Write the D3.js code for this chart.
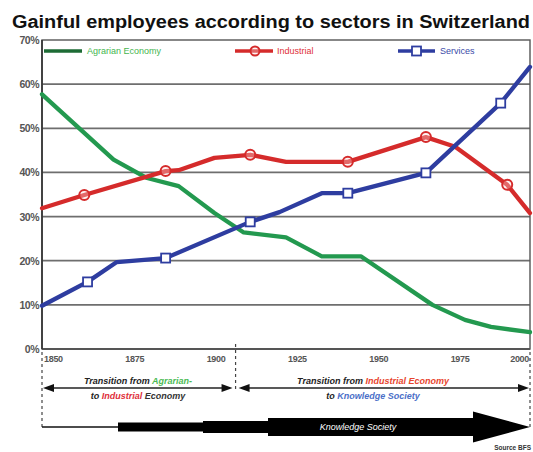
<!DOCTYPE html>
<html><head><meta charset="utf-8">
<script src="https://cdn.jsdelivr.net/npm/d3@7"></script>
<style>body{margin:0;background:#fff}svg{display:block;font-family:"Liberation Sans",Arial,sans-serif}</style>
</head><body><svg id="c" width="533" height="452"></svg>
<script>
const title = "Gainful employees according to sectors in Switzerland";
const yTicks = [0,10,20,30,40,50,60,70];
const xTicks = [1850,1875,1900,1925,1950,1975,2000];

const agrarianYears  = [1850,1872,1882,1892,1903,1912,1925,1936,1948,1970,1980,1988,2000];
const agrarianValues = [57.7,42.9,38.8,36.9,30.8,26.4,25.3,21.0,21.0,10.0,6.6,5.0,3.8];

const industrialYears   = [1850,1863,1888,1892,1903,1914,1925,1944,1968,1977,1993,2000];
const industrialValues  = [31.9,34.9,40.3,40.5,43.3,44.0,42.4,42.4,48.0,45.8,37.2,30.8];
const industrialMarkers = [1863,1888,1914,1944,1968,1993];

const servicesYears   = [1850,1864,1873,1888,1914,1923,1936,1944,1968,1991,2000];
const servicesValues  = [9.8,15.2,19.7,20.6,28.8,31.0,35.3,35.3,39.9,55.7,63.9];
const servicesMarkers = [1864,1888,1914,1944,1968,1991];

const seriesNames = ["Agrarian Economy","Industrial","Services"];
const transitionYear = 1909.5;

const svg = d3.select("#c");
const x = d3.scaleLinear().domain([1850,2000]).range([42,530]);
const y = d3.scaleLinear().domain([0,70]).range([349,40]);

// title
svg.append("text").attr("x",12).attr("y",28).attr("font-size",17.5).attr("font-weight","bold")
  .attr("fill","#111").attr("textLength",518).attr("lengthAdjust","spacingAndGlyphs").text(title);

// gridlines
svg.append("g").selectAll("line").data(yTicks.filter(d=>d>0&&d<70)).join("line")
  .attr("x1",x(1850)).attr("x2",x(2000)).attr("y1",d=>y(d)).attr("y2",d=>y(d))
  .attr("stroke","#6e6e6e").attr("stroke-width",1.7);
// border
svg.append("rect").attr("x",x(1850)).attr("y",y(70)).attr("width",x(2000)-x(1850)).attr("height",y(0)-y(70))
  .attr("fill","none").attr("stroke","#555").attr("stroke-width",1.4);
svg.append("line").attr("x1",x(1850)).attr("x2",x(2000)).attr("y1",y(0)).attr("y2",y(0))
  .attr("stroke","#555").attr("stroke-width",2.2);
svg.append("line").attr("x1",x(1850)).attr("x2",x(1850)).attr("y1",y(70)).attr("y2",y(0))
  .attr("stroke","#333").attr("stroke-width",1.6);

// y labels
svg.append("g").selectAll("text").data(yTicks).join("text")
  .attr("x",39).attr("y",d=>y(d)+4).attr("text-anchor","end").attr("font-size",10.5).attr("font-weight","bold")
  .attr("fill","#555").attr("letter-spacing",-0.5).text(d=>d+"%");
// x labels
svg.append("g").selectAll("text").data(xTicks).join("text")
  .attr("x",(d,i)=>i===xTicks.length-1?x(d)-1:x(d)+2).attr("y",362)
  .attr("text-anchor",(d,i)=>i===xTicks.length-1?"end":"start")
  .attr("font-size",9).attr("font-weight","bold").attr("fill","#555").attr("letter-spacing",-0.3).text(d=>d);

const line = d3.line().x(d=>x(d[0])).y(d=>y(d[1]));
const zip = (a,b)=>a.map((v,i)=>[v,b[i]]);
const colors = {green:"#23994f", red:"#d52b2b", blue:"#2e3da0"};

function drawLine(years, vals, col){
  svg.append("path").attr("d",line(zip(years,vals))).attr("fill","none").attr("stroke",col)
    .attr("stroke-width",4.3).attr("stroke-linejoin","round").attr("stroke-linecap","round");
}
drawLine(agrarianYears, agrarianValues, colors.green);
drawLine(industrialYears, industrialValues, colors.red);
drawLine(servicesYears, servicesValues, colors.blue);

const indPts = zip(industrialYears, industrialValues).filter(d=>industrialMarkers.includes(d[0]));
svg.append("g").selectAll("circle").data(indPts).join("circle")
  .attr("cx",d=>x(d[0])).attr("cy",d=>y(d[1])).attr("r",5)
  .attr("fill","rgba(255,220,220,0.35)").attr("stroke",colors.red).attr("stroke-width",2);
const srvPts = zip(servicesYears, servicesValues).filter(d=>servicesMarkers.includes(d[0]));
svg.append("g").selectAll("rect").data(srvPts).join("rect")
  .attr("x",d=>x(d[0])-4.5).attr("y",d=>y(d[1])-4.5).attr("width",9).attr("height",9)
  .attr("fill","#fff").attr("stroke",colors.blue).attr("stroke-width",1.8);

// legend
const lg = svg.append("g");
const ly = 51;
lg.append("line").attr("x1",44).attr("x2",82).attr("y1",ly).attr("y2",ly).attr("stroke","#1d6b35").attr("stroke-width",3.5);
lg.append("text").attr("x",87).attr("y",ly+3).attr("font-size",9).attr("fill","#45b54f").text(seriesNames[0]);
lg.append("line").attr("x1",235).attr("x2",273).attr("y1",ly).attr("y2",ly).attr("stroke",colors.red).attr("stroke-width",3.5);
lg.append("circle").attr("cx",255).attr("cy",ly).attr("r",4.5).attr("fill","rgba(255,220,220,0.35)").attr("stroke",colors.red).attr("stroke-width",2);
lg.append("text").attr("x",277).attr("y",ly+3).attr("font-size",9).attr("fill","#e0303a").text(seriesNames[1]);
lg.append("line").attr("x1",398).attr("x2",435).attr("y1",ly).attr("y2",ly).attr("stroke",colors.blue).attr("stroke-width",3.5);
lg.append("rect").attr("x",412).attr("y",ly-4.5).attr("width",9).attr("height",9).attr("fill","#fff").attr("stroke",colors.blue).attr("stroke-width",1.8);
lg.append("text").attr("x",440).attr("y",ly+3).attr("font-size",9).attr("fill","#3a4aa8").text(seriesNames[2]);

// lower annotation
const ann = svg.append("g");
const dash = (xx,y1,y2)=>ann.append("line").attr("x1",xx).attr("x2",xx).attr("y1",y1).attr("y2",y2)
  .attr("stroke","#444").attr("stroke-width",1.2).attr("stroke-dasharray","3,3");
dash(x(1850),352,428); dash(x(transitionYear),344,392); dash(x(2000),352,428);

const ay = 388;
function dblArrow(x1,x2){
  ann.append("line").attr("x1",x1+6).attr("x2",x2-6).attr("y1",ay).attr("y2",ay).attr("stroke","#222").attr("stroke-width",1.3);
  ann.append("path").attr("d",`M${x1},${ay}L${x1+11},${ay-4}L${x1+11},${ay+4}Z`).attr("fill","#111");
  ann.append("path").attr("d",`M${x2},${ay}L${x2-11},${ay-4}L${x2-11},${ay+4}Z`).attr("fill","#111");
}
dblArrow(x(1850)+1, x(transitionYear)-3);
dblArrow(x(transitionYear)+3, x(2000)-1);

function richText(cx, yy, parts){
  const t = ann.append("text").attr("x",cx).attr("y",yy).attr("text-anchor","middle")
    .attr("font-size",9).attr("font-style","italic").attr("font-weight","bold");
  parts.forEach(p=>t.append("tspan").attr("fill",p[1]).text(p[0]));
}
richText(138,384,[["Transition from ","#222"],["Agrarian-","#4cbb55"]]);
richText(138,399,[["to ","#222"],["Industrial","#e0303a"],[" Economy","#333"]]);
richText(373,384,[["Transition from ","#222"],["Industrial Economy","#e8452e"]]);
richText(373,399,[["to ","#222"],["Knowledge Society","#4b6fc8"]]);

// knowledge society arrow
const ky = 427;
ann.append("line").attr("x1",x(1850)).attr("x2",120).attr("y1",ky).attr("y2",ky).attr("stroke","#111").attr("stroke-width",1.6);
ann.append("path").attr("fill","#000").attr("d",
  `M118,${ky-4.5}L203,${ky-4.5}L203,${ky-6}L268,${ky-6}L268,${ky-9}L473,${ky-9}L473,${ky-15.5}L530,${ky}`+
  `L473,${ky+15.5}L473,${ky+9}L268,${ky+9}L268,${ky+6}L203,${ky+6}L203,${ky+4.5}L118,${ky+4.5}Z`);
ann.append("text").attr("x",358).attr("y",ky+3).attr("text-anchor","middle").attr("font-size",9)
  .attr("font-style","italic").attr("fill","#fff").text("Knowledge Society");
ann.append("text").attr("x",531).attr("y",450).attr("text-anchor","end").attr("font-size",6.5)
  .attr("font-weight","bold").attr("fill","#333").text("Source BFS");
</script></body></html>
